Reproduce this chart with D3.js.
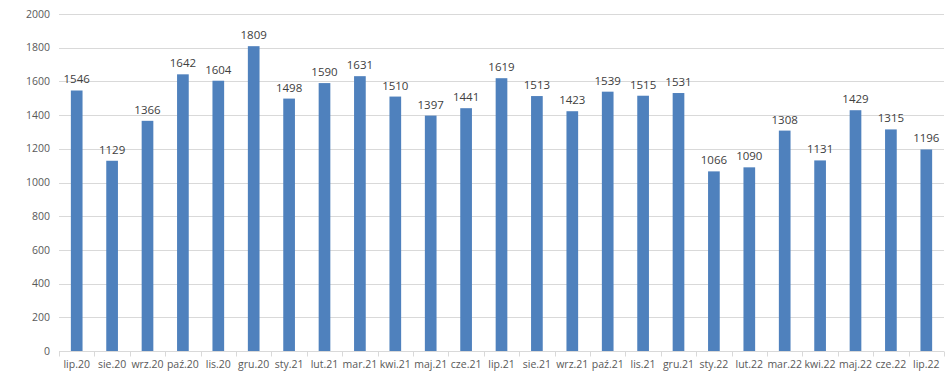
<!DOCTYPE html>
<html>
<head>
<meta charset="utf-8">
<script src="https://cdn.jsdelivr.net/npm/d3@7"></script>
<style>
  body { margin: 0; background: #fff; }
  svg { display: block; font-family: "Open Sans", "Liberation Sans", Arial, sans-serif; }
</style>
</head>
<body>
<div id="chart"></div>
<script>
// month labels and values
var months = ["lip.20", "sie.20", "wrz.20", "paź.20", "lis.20", "gru.20",
  "sty.21", "lut.21", "mar.21", "kwi.21", "maj.21", "cze.21",
  "lip.21", "sie.21", "wrz.21", "paź.21", "lis.21", "gru.21",
  "sty.22", "lut.22", "mar.22", "kwi.22", "maj.22", "cze.22", "lip.22"];
var values = [1546, 1129, 1366, 1642, 1604, 1809, 1498, 1590, 1631, 1510, 1397, 1441,
  1619, 1513, 1423, 1539, 1515, 1531, 1066, 1090, 1308, 1131, 1429, 1315, 1196];
var yTicks = [0, 200, 400, 600, 800, 1000, 1200, 1400, 1600, 1800, 2000];

var W = 948, H = 390;
var margin = { top: 14, right: 4, bottom: 39, left: 59 };
var width = W - margin.left - margin.right,
  height = H - margin.top - margin.bottom;

var data = months.map(function (m, i) { return { month: m, value: values[i] }; });

var svg = d3.select("#chart").append("svg")
  .attr("width", W).attr("height", H)
  .append("g")
  .attr("transform", "translate(" + margin.left + "," + margin.top + ")");

var x = d3.scaleBand().domain(months).range([0, width]).paddingInner(0.67).paddingOuter(0.335);
var y = d3.scaleLinear().domain([0, 2000]).range([height, 0]);

// gridlines
svg.append("g")
  .selectAll("line")
  .data(yTicks.filter(function (d) { return d > 0; }))
  .enter().append("line")
  .attr("x1", 0).attr("x2", width)
  .attr("y1", function (d) { return Math.round(y(d)) + 0.5; })
  .attr("y2", function (d) { return Math.round(y(d)) + 0.5; })
  .style("stroke", "#d9d9d9")
  .style("stroke-width", 1);

// y labels
svg.append("g")
  .selectAll("text")
  .data(yTicks)
  .enter().append("text")
  .attr("x", -9)
  .attr("y", function (d) { return y(d); })
  .attr("dy", "0.35em")
  .attr("text-anchor", "end")
  .style("font-size", "10.5px")
  .style("fill", "#595959")
  .text(function (d) { return d; });

// bars
svg.append("g")
  .selectAll("rect")
  .data(data)
  .enter().append("rect")
  .attr("x", function (d) { return x(d.month); })
  .attr("y", function (d) { return y(d.value); })
  .attr("width", x.bandwidth())
  .attr("height", function (d) { return height - y(d.value); })
  .style("fill", "#4f81bd");

// value labels
svg.append("g")
  .selectAll("text")
  .data(data)
  .enter().append("text")
  .attr("x", function (d) { return x(d.month) + x.bandwidth() / 2; })
  .attr("y", function (d) { return y(d.value) - 7; })
  .attr("text-anchor", "middle")
  .style("font-size", "11.5px")
  .style("fill", "#404040")
  .text(function (d) { return d.value; });

// x axis line and tick marks between categories
var step = x.step();
var axis = svg.append("g").attr("transform", "translate(0," + (height + 0.5) + ")");
axis.append("line")
  .attr("x1", 0).attr("x2", width)
  .style("stroke", "#d9d9d9");
axis.selectAll(".tk")
  .data(d3.range(months.length + 1))
  .enter().append("line")
  .attr("class", "tk")
  .attr("x1", function (i) { return Math.round(i * step) + 0.5; })
  .attr("x2", function (i) { return Math.round(i * step) + 0.5; })
  .attr("y1", 0).attr("y2", 5)
  .style("stroke", "#d9d9d9");

axis.selectAll("text.lbl")
  .data(months)
  .enter().append("text")
  .attr("class", "lbl")
  .attr("x", function (d) { return x(d) + x.bandwidth() / 2; })
  .attr("y", 13)
  .attr("dy", "0.35em")
  .attr("text-anchor", "middle")
  .style("font-size", "10.5px")
  .style("fill", "#595959")
  .text(function (d) { return d; });
</script>
</body>
</html>
